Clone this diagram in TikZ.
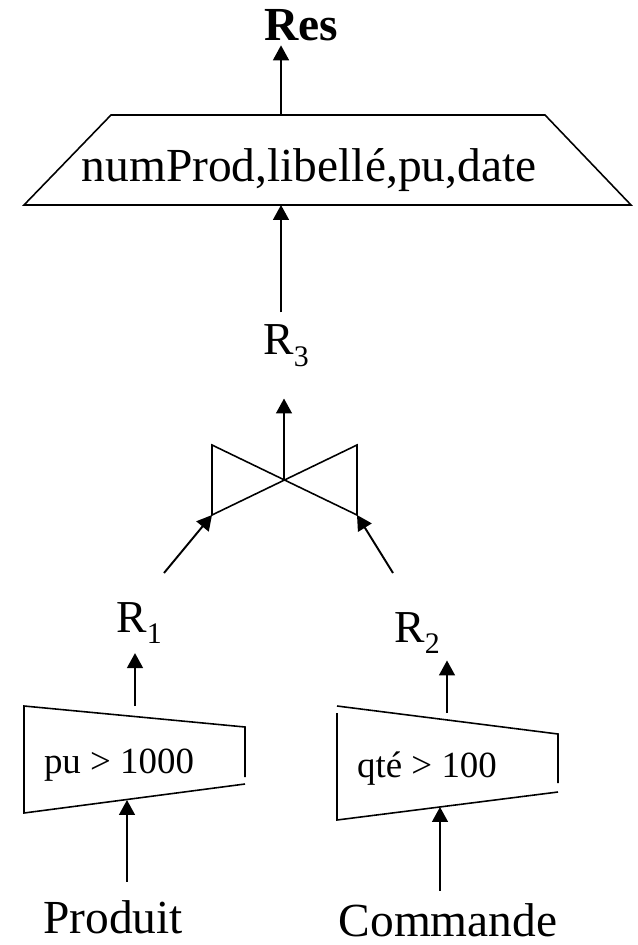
\documentclass[tikz,border=0pt]{standalone}
\usepackage{fontspec}
\setmainfont{Liberation Serif}
\usepackage{tikz}
\usetikzlibrary{arrows.meta, positioning}
\newcommand{\rsub}[1]{\raisebox{-6.8pt}{\fontsize{17}{17}\selectfont #1}}

\begin{document}
\begin{tikzpicture}[x=0.02cm, y=-0.02cm,
          lbl/.style={inner sep=2pt, anchor=base, font=\fontsize{26}{30}\selectfont},
          cnd/.style={inner sep=2pt, anchor=base, font=\fontsize{21}{24}\selectfont},
          shp/.style={draw=black, line width=0.9pt, line join=miter},
          arr/.style={-{Triangle[length=8.5pt, width=9pt]}, draw=black, line width=1.1pt}
        ]
        \useasboundingbox (0,0) rectangle (637,945);

        % Projection
        \draw[shp] (111,115) -- (545,115) -- (631,205) -- (24,205) -- cycle;
        \coordinate (pjtop) at (281,115);
        \coordinate (pjbot) at (281,205);
        \node[lbl, font=\fontsize{27}{30}\selectfont] (pj) at (309,182)
              {numProd,libellé,pu,date};
        \node[lbl, font=\fontsize{27}{30}\selectfont\bfseries] (res) at (301,41) {Res};
        \node[lbl] (r3) at (286,355) {R\rsub{3}};

        % Join
        \draw[shp] (212,445) -- (357,515) -- (357,445) -- (212,515) -- cycle;
        \coordinate (jc) at (284,480);
        \coordinate (jl) at (212,515);
        \coordinate (jr) at (357,515);
        \coordinate (inl) at (164,573);
        \coordinate (inr) at (393,573);
        \node[lbl] (r1) at (139,632) {R\rsub{1}};
        \node[lbl] (r2) at (417,642) {R\rsub{2}};

        % Selections
        \draw[shp] (245,777) -- (245,727) -- (24,706) -- (24,813) -- (245,784);
        \draw[shp] (558,783) -- (558,734) -- (337,706);
        \draw[shp] (337,713) -- (337,820) -- (558,792);
        \coordinate (s1t) at (135,706);
        \coordinate (s1b) at (127,800);
        \coordinate (s2t) at (447,713);
        \coordinate (s2b) at (440,807);
        \node[cnd] (c1) at (119,773) {pu > 1000};
        \node[cnd] (c2) at (427,777) {qté > 100};

        % Relations
        \node[lbl, font=\fontsize{27}{30}\selectfont] (prod) at (113,933) {Produit};
        \node[lbl, font=\fontsize{27}{30}\selectfont] (cmd) at (448,936) {Commande};

        % Arrows
        \draw[arr] (pjtop) -- (pjtop |- res.south);
        \draw[arr, shorten <=5pt] (pjbot |- r3.north) -- (pjbot);
        \draw[arr, shorten >=15.6pt] (jc) -- (jc |- r3.south);
        \draw[arr] (inl) -- (jl);
        \draw[arr] (inr) -- (jr);
        \draw[arr, shorten >=3pt] (s1t) -- (s1t |- r1.south);
        \draw[arr, shorten >=1.5pt] (s2t) -- (s2t |- r2.south);
        \draw[arr, shorten <=8.3pt] (s1b |- prod.north) -- (s1b);
        \draw[arr, shorten <=4.8pt] (s2b |- cmd.north) -- (s2b);
      \end{tikzpicture}
\end{document}
